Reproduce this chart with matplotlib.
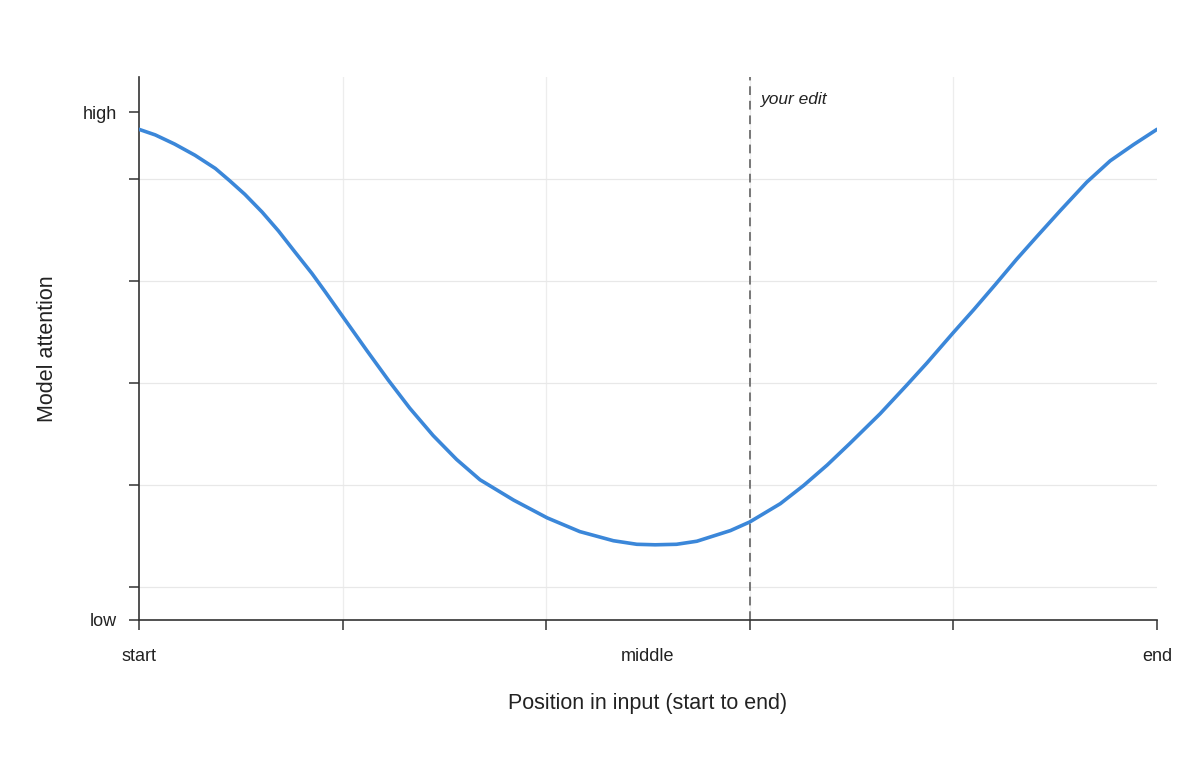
import numpy as np
import matplotlib
matplotlib.use("Agg")
import matplotlib.pyplot as plt

plt.rcParams['font.family'] = ['Liberation Sans', 'DejaVu Sans']

# position along the input (0 = start, 1 = end)
position = [0.000, 0.016, 0.035, 0.055, 0.075, 0.089, 0.104, 0.121, 0.137,
            0.153, 0.170, 0.183, 0.201, 0.224, 0.245, 0.266, 0.289, 0.312,
            0.335, 0.368, 0.401, 0.433, 0.466, 0.489, 0.507, 0.528, 0.548,
            0.581, 0.600, 0.630, 0.653, 0.676, 0.698, 0.728, 0.754, 0.774,
            0.800, 0.820, 0.841, 0.862, 0.882, 0.905, 0.931, 0.954, 0.977,
            1.000]
# model attention (0 = low, 1 = high)
attention = [0.966, 0.955, 0.937, 0.915, 0.889, 0.865, 0.838, 0.803, 0.766,
             0.725, 0.682, 0.646, 0.595, 0.530, 0.472, 0.417, 0.363, 0.316,
             0.276, 0.236, 0.201, 0.174, 0.156, 0.149, 0.148, 0.149, 0.155,
             0.176, 0.193, 0.229, 0.265, 0.305, 0.347, 0.406, 0.462, 0.506,
             0.566, 0.611, 0.660, 0.710, 0.755, 0.806, 0.862, 0.904, 0.936,
             0.966]

edit_pos = 0.6
x_grid = [0.0, 0.2, 0.4, 0.6, 0.8, 1.0]
x_label_pos = [0.0, 0.5, 1.0]
x_labels = ['start', 'middle', 'end']
y_grid = [0.065, 0.266, 0.466, 0.667, 0.868]
y_label_pos = [0.0, 1.0]
y_labels = ['low', 'high']

text_col = '#222222'
axis_col = '#333333'

fig = plt.figure(figsize=(12, 7.67), dpi=100)
ax = fig.add_axes([0.1158, 0.1917, 0.8484, 0.7079])

ax.plot(position, attention, color='#3b87d9', lw=2.6, solid_capstyle='round',
        solid_joinstyle='round', zorder=3)
ax.axvline(edit_pos, color='#777777', lw=1.4, ls=(0, (4.5, 3)), zorder=2)
ax.text(edit_pos + 0.011, 1.024, 'your edit', style='italic', fontsize=12.5,
        color=text_col, ha='left', va='center')

ax.set_xlim(0, 1)
ax.set_ylim(0, 1.069)

# tick marks + faint grid
ax.xaxis.remove_overlapping_locs = False
ax.set_xticks(x_grid)
ax.set_xticklabels([''] * len(x_grid))
ax.set_yticks(y_grid + y_label_pos)
ax.set_yticklabels([''] * len(y_grid) + y_labels, fontsize=13, color=text_col)
ax.tick_params(axis='y', direction='out', length=7, width=1.1, color=axis_col,
               pad=9)
ax.tick_params(axis='x', direction='out', length=7, width=1.1, color=axis_col)

ax.set_xticks(x_label_pos, minor=True)
ax.set_xticklabels(x_labels, minor=True, fontsize=13, color=text_col)
ax.tick_params(axis='x', which='minor', length=0, pad=20)

for gx in x_grid[1:-1]:
    ax.axvline(gx, color='#ededed', lw=0.9, zorder=0)
for gy in y_grid:
    ax.axhline(gy, color='#e8e8e8', lw=0.9, zorder=0)

for s in ['top', 'right']:
    ax.spines[s].set_visible(False)
for s in ['left', 'bottom']:
    ax.spines[s].set_color(axis_col)
    ax.spines[s].set_linewidth(1.2)

ax.set_xlabel('Position in input (start to end)', fontsize=15.5, color=text_col)
ax.xaxis.set_label_coords(0.5, -0.134)
ax.set_ylabel('Model attention', fontsize=15.5, color=text_col)
ax.yaxis.set_label_coords(-0.08, 0.5)

fig.savefig('out.png', dpi=100, facecolor='white')
